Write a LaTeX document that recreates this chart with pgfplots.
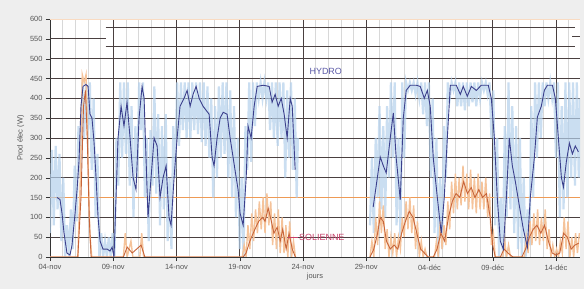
\documentclass[border=0pt]{standalone}
\usepackage{pgfplots}
\pgfplotsset{compat=1.18}
\usepackage{fontspec}
\setmainfont{Liberation Sans}
\definecolor{bgc}{HTML}{EEEEEE}
\definecolor{lblue}{HTML}{B4D0EC}
\definecolor{dblue}{HTML}{3B3F8C}
\definecolor{lorange}{HTML}{F5C39A}
\definecolor{dorange}{HTML}{C8653A}
\definecolor{thr}{HTML}{EE9A55}
\definecolor{gridd}{HTML}{4A4040}
\definecolor{gridl}{HTML}{D8D8D8}
\definecolor{hydc}{HTML}{5C5AA8}
\definecolor{solc}{HTML}{C8406A}
\definecolor{tickc}{HTML}{555555}
\begin{document}
\begin{tikzpicture}
\fill[bgc] (0,0) rectangle (584bp,289bp);
\path[use as bounding box] (0,0) rectangle (584bp,289bp);
\begin{axis}[
  at={(50bp,32bp)}, anchor=south west,
  scale only axis, width=530bp, height=238bp,
  xmin=0, xmax=41.9, ymin=0, ymax=600,
  axis background/.style={fill=white},
  xtick={0,5,...,40},
  xticklabels={04-nov,09-nov,14-nov,19-nov,24-nov,29-nov,04-déc,09-déc,14-déc},
  minor xtick={0,1,...,41},
  ytick={0,50,...,600},
  xmajorgrids, xminorgrids, ymajorgrids=false,
  major grid style={gridd, line width=0.8pt},
  minor grid style={gridl, line width=0.5pt},
  axis x line*=bottom, axis y line*=left,
  axis line style={-, black!80, line width=0.8pt},
  tick align=outside, major tick length=4bp, minor tick length=0pt,
  tick style={black!80},
  ticklabel style={font=\fontsize{7.5}{8}\selectfont, text=tickc},
  /pgf/number format/assume math mode=true,
  xlabel={jours}, ylabel={Prod élec (W)},
  label style={font=\fontsize{7.5}{8}\selectfont, text=tickc},
  xlabel style={yshift=4bp},
  ylabel style={yshift=-1bp},
]
% horizontal grid
\draw[gridd, line width=0.8pt] (axis cs:0,50) -- (axis cs:41.9,50);
\draw[gridd, line width=0.8pt] (axis cs:0,100) -- (axis cs:41.9,100);
\draw[gridd, line width=0.8pt] (axis cs:0,200) -- (axis cs:41.9,200);
\draw[gridd, line width=0.8pt] (axis cs:0,250) -- (axis cs:41.9,250);
\draw[gridd, line width=0.8pt] (axis cs:0,300) -- (axis cs:41.9,300);
\draw[gridd, line width=0.8pt] (axis cs:0,350) -- (axis cs:41.9,350);
\draw[gridd, line width=0.8pt] (axis cs:0,400) -- (axis cs:41.9,400);
\draw[gridd, line width=0.8pt] (axis cs:0,450) -- (axis cs:41.9,450);
\draw[gridd, line width=0.8pt] (axis cs:0,500) -- (axis cs:41.9,500);
\draw[gridd, line width=0.8pt] (axis cs:0,550) -- (axis cs:4.4,550);
\draw[gridd, line width=0.8pt] (axis cs:4.4,580) -- (axis cs:41.5,580);
\draw[gridd, line width=0.8pt] (axis cs:4.4,532) -- (axis cs:41.5,532);
\draw[gridd, line width=0.8pt] (axis cs:41.3,556) -- (axis cs:41.9,556);
\draw[lorange!60, line width=0.6pt] (axis cs:0,600) -- (axis cs:41.9,600);
% threshold
\addplot[thr, line width=1pt] coordinates {(0,150) (41.9,150)};
% raw hydro segment 1
\addplot[lblue, opacity=0.7, line width=2.2pt] coordinates {
(0.0,60)(0.15,270)(0.3,80)(0.45,280)(0.6,120)(0.75,260)(0.9,40)(1.05,200)(1.2,0)(1.35,80)(1.5,0)(1.65,120)(1.8,20)(1.95,230)(2.1,90)(2.25,330)(2.4,200)(2.55,440)(2.7,300)(2.85,440)(3.0,320)(3.15,440)(3.3,220)(3.45,400)(3.6,100)(3.75,260)(3.9,0)(4.05,60)(4.2,0)(4.35,40)(4.5,0)(4.65,50)(4.8,0)(4.95,60)(5.1,0)(5.25,300)(5.4,180)(5.55,440)(5.7,250)(5.85,440)(6.0,260)(6.15,440)(6.3,180)(6.45,380)(6.6,100)(6.75,330)(6.9,200)(7.05,440)(7.2,320)(7.35,440)(7.5,150)(7.65,300)(7.8,40)(7.95,320)(8.1,180)(8.25,430)(8.4,160)(8.55,360)(8.7,80)(8.85,330)(9.0,120)(9.15,360)(9.3,40)(9.45,200)(9.6,20)(9.75,330)(9.9,200)(10.05,440)(10.2,280)(10.35,440)(10.5,320)(10.65,440)(10.8,300)(10.95,440)(11.1,300)(11.25,440)(11.4,320)(11.55,440)(11.7,310)(11.85,440)(12.0,290)(12.15,440)(12.3,280)(12.45,430)(12.6,250)(12.75,400)(12.9,150)(13.05,380)(13.2,200)(13.35,430)(13.5,250)(13.65,440)(13.8,260)(13.95,440)(14.1,200)(14.25,420)(14.4,150)(14.55,380)(14.7,100)(14.85,300)(15.0,20)(15.15,200)(15.3,0)(15.45,330)(15.6,220)(15.75,440)(15.9,240)(16.05,440)(16.2,330)(16.35,440)(16.5,400)(16.65,440)(16.8,400)(16.95,440)(17.1,400)(17.25,440)(17.4,320)(17.55,440)(17.7,300)(17.85,440)(18.0,280)(18.15,440)(18.3,300)(18.45,440)(18.6,200)(18.75,420)(18.9,250)(19.05,440)(19.2,220)(19.35,400)(19.5,150)(19.6,300)};
% raw hydro segment 2
\addplot[lblue, opacity=0.7, line width=2.2pt] coordinates {
(25.3,80)(25.45,250)(25.6,60)(25.75,300)(25.9,150)(26.05,380)(26.2,120)(26.35,330)(26.5,100)(26.65,380)(26.8,200)(26.95,440)(27.1,250)(27.25,440)(27.4,80)(27.55,300)(27.7,50)(27.85,440)(28.0,250)(28.15,440)(28.3,420)(28.45,440)(28.6,420)(28.75,440)(28.9,410)(29.05,440)(29.2,400)(29.35,440)(29.5,360)(29.65,440)(29.8,330)(29.95,440)(30.1,200)(30.25,400)(30.4,60)(30.55,300)(30.7,0)(30.85,200)(31.0,20)(31.15,330)(31.3,200)(31.45,440)(31.6,400)(31.75,440)(31.9,420)(32.05,440)(32.2,380)(32.35,440)(32.5,380)(32.65,440)(32.8,370)(32.95,440)(33.1,380)(33.25,440)(33.4,390)(33.55,440)(33.7,380)(33.85,440)(34.0,400)(34.15,440)(34.3,420)(34.45,440)(34.6,410)(34.75,440)(34.9,300)(35.05,420)(35.2,80)(35.35,300)(35.5,0)(35.65,150)(35.8,0)(35.95,330)(36.1,100)(36.25,440)(36.4,120)(36.55,380)(36.7,60)(36.85,330)(37.0,20)(37.15,300)(37.3,0)(37.45,200)(37.6,0)(37.75,120)(37.9,30)(38.05,380)(38.2,150)(38.35,440)(38.5,250)(38.65,440)(38.8,300)(38.95,440)(39.1,380)(39.25,440)(39.4,400)(39.55,440)(39.7,400)(39.85,440)(40.0,250)(40.15,440)(40.3,100)(40.45,380)(40.6,120)(40.75,440)(40.9,150)(41.05,440)(41.2,200)(41.35,440)(41.5,180)(41.65,440)(41.8,200)(41.9,400)};
% raw solar
\addplot[lorange, line width=1.4pt] coordinates {
(0,0)(2.2,0)(2.4,200)(2.55,460)(2.7,440)(2.85,460)(3.0,250)(3.15,60)(3.3,0)(5.8,0)(5.95,60)(6.1,0)(6.4,40)(6.55,0)(7.1,0)(7.25,60)(7.4,0)(15.2,0)(15.35,30)(15.5,0)(15.65,80)(15.8,20)(15.95,110)(16.1,40)(16.25,120)(16.4,60)(16.55,140)(16.7,70)(16.85,150)(17.0,60)(17.15,160)(17.3,80)(17.45,140)(17.6,30)(17.75,110)(17.9,20)(18.05,120)(18.2,10)(18.35,100)(18.5,10)(18.65,80)(18.8,0)(18.95,90)(19.1,0)(19.25,40)(19.4,0)};
\addplot[lorange, line width=1.4pt] coordinates {
(25.3,0)(25.45,40)(25.6,0)(25.75,100)(25.9,30)(26.05,140)(26.2,60)(26.35,130)(26.5,20)(26.65,70)(26.8,0)(26.95,50)(27.1,10)(27.25,60)(27.4,0)(27.55,50)(27.7,20)(27.85,100)(28.0,50)(28.15,140)(28.3,70)(28.45,150)(28.6,60)(28.75,130)(28.9,20)(29.05,90)(29.2,0)(29.35,40)(29.5,0)(29.65,20)(29.8,0)(30.4,0)(30.55,40)(30.7,0)(30.85,90)(31.0,20)(31.15,80)(31.3,30)(31.45,140)(31.6,70)(31.75,190)(31.9,110)(32.05,210)(32.2,120)(32.35,200)(32.5,130)(32.65,230)(32.8,140)(32.95,210)(33.1,120)(33.25,220)(33.4,120)(33.55,200)(33.7,110)(33.85,210)(34.0,120)(34.15,190)(34.3,120)(34.45,200)(34.6,100)(34.75,160)(34.9,30)(35.05,60)(35.2,0)(35.8,0)(35.95,40)(36.1,0)(36.25,30)(36.4,0)(37.5,0)(37.65,50)(37.8,10)(37.95,90)(38.1,30)(38.25,110)(38.4,40)(38.55,120)(38.7,30)(38.85,100)(39.0,40)(39.15,120)(39.3,20)(39.45,70)(39.6,0)(39.75,30)(39.9,0)(40.05,20)(40.2,0)(40.35,40)(40.5,10)(40.65,100)(40.8,20)(40.95,90)(41.1,0)(41.25,50)(41.4,0)(41.55,60)(41.7,10)(41.85,60)};
% smoothed solar
\addplot[dorange, line width=0.9pt] coordinates {
(0,0)(2.2,0)(2.45,150)(2.65,380)(2.8,420)(2.95,300)(3.1,100)(3.25,0)(5.8,0)(6.1,25)(6.5,10)(7.2,30)(7.5,0)(15.27,0)(15.5,10)(15.8,40)(16.2,70)(16.5,90)(16.8,100)(17.0,90)(17.25,123)(17.5,90)(17.7,60)(17.96,75)(18.2,40)(18.4,70)(18.67,20)(18.9,60)(19.15,20)(19.4,0)};
\addplot[dorange, line width=0.9pt] coordinates {
(25.3,0)(25.6,20)(25.9,60)(26.1,100)(26.35,90)(26.6,40)(26.9,20)(27.2,30)(27.5,20)(27.8,60)(28.1,90)(28.4,115)(28.7,100)(29.0,60)(29.3,20)(29.6,10)(29.9,0)(30.3,0)(30.6,20)(30.9,60)(31.2,40)(31.5,100)(31.8,140)(32.1,160)(32.4,150)(32.7,190)(33.0,160)(33.3,175)(33.6,150)(33.9,170)(34.2,150)(34.5,160)(34.8,100)(35.0,30)(35.2,0)(35.6,0)(35.9,20)(36.2,10)(36.6,0)(37.3,0)(37.6,20)(37.9,50)(38.2,70)(38.5,80)(38.8,60)(39.1,80)(39.4,40)(39.7,10)(40.0,5)(40.3,10)(40.6,60)(40.9,50)(41.2,20)(41.5,30)(41.8,35)};
% smoothed hydro
\addplot[dblue, line width=0.9pt] coordinates {
(0.55,150)(0.79,145)(0.95,110)(1.11,60)(1.34,10)(1.58,5)(1.74,30)(1.98,110)(2.14,170)(2.29,240)(2.45,380)(2.61,430)(2.85,435)(3.01,430)(3.16,360)(3.32,350)(3.48,290)(3.64,200)(3.80,100)(3.96,40)(4.19,20)(4.51,20)(4.75,15)(4.91,25)(5.06,0)(5.22,150)(5.38,300)(5.62,380)(5.85,330)(6.09,390)(6.33,300)(6.57,200)(6.80,170)(7.04,350)(7.28,430)(7.44,400)(7.59,250)(7.75,100)(7.99,200)(8.23,300)(8.47,280)(8.70,150)(8.94,200)(9.18,230)(9.41,100)(9.57,80)(9.81,200)(10.05,300)(10.28,380)(10.60,400)(10.84,420)(11.08,380)(11.31,410)(11.55,430)(11.79,400)(12.10,380)(12.34,370)(12.58,360)(12.82,250)(12.97,230)(13.21,300)(13.45,350)(13.69,365)(14.00,360)(14.24,300)(14.48,250)(14.72,200)(14.87,170)(15.03,110)(15.27,80)(15.51,200)(15.66,330)(15.90,300)(16.14,380)(16.38,430)(16.85,433)(17.33,430)(17.56,390)(17.80,410)(18.04,380)(18.28,400)(18.51,360)(18.75,300)(18.99,400)(19.15,380)(19.38,220)};
\addplot[dblue, line width=0.9pt] coordinates {
(25.55,126)(25.79,180)(26.11,252)(26.35,230)(26.58,212)(26.90,300)(27.14,363)(27.37,250)(27.69,144)(27.93,350)(28.16,420)(28.48,433)(28.96,433)(29.27,430)(29.59,400)(29.83,420)(30.06,380)(30.30,250)(30.62,150)(30.93,60)(31.17,150)(31.41,300)(31.65,433)(32.12,433)(32.44,410)(32.67,430)(32.99,405)(33.31,430)(33.70,420)(34.10,433)(34.65,433)(34.89,400)(35.13,300)(35.36,150)(35.60,40)(35.84,20)(36.08,150)(36.31,300)(36.55,230)(36.79,190)(37.10,130)(37.42,70)(37.74,25)(37.97,150)(38.29,250)(38.53,353)(38.84,380)(39.08,420)(39.32,433)(39.72,433)(39.95,400)(40.19,300)(40.43,200)(40.59,176)(40.82,240)(41.06,287)(41.30,260)(41.53,280)(41.77,265)};
% annotations
\draw[solc, line width=0.8pt] (axis cs:18.8,50) -- (axis cs:19.6,50);
\node[text=hydc, font=\fontsize{9}{10}\selectfont] at (axis cs:21.8,469) {HYDRO};
\node[text=solc, font=\fontsize{9}{10}\selectfont, anchor=west, inner sep=1bp] at (axis cs:19.6,50) {SOLIENNE};
\end{axis}
\end{tikzpicture}
\end{document}
